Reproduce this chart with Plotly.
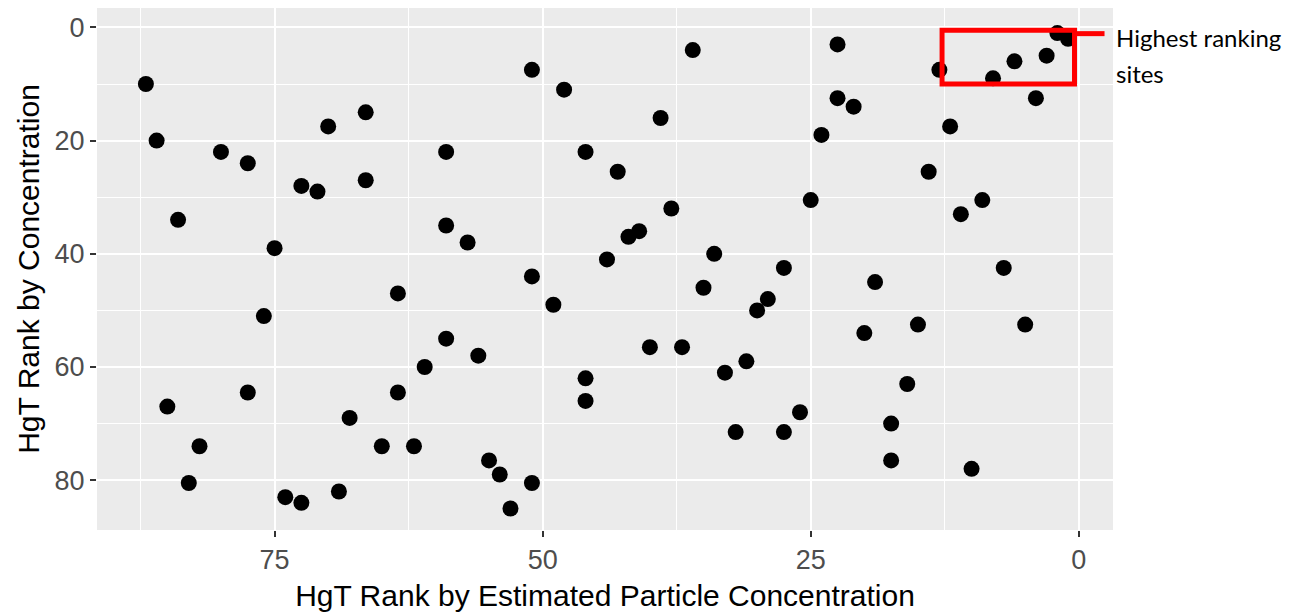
import plotly.graph_objects as go

# HgT rank by estimated particle concentration (x) vs rank by concentration (y)
particle_rank = [87, 86, 80, 77.5, 84, 75, 72.5, 71, 70, 66.5, 66.5, 59, 59,
                 51, 48, 36, 39, 46, 43, 38, 57, 42, 41, 44, 34, 51,
                 22.5, 13, 8, 6, 3, 2, 1, 4, 22.5, 21, 12, 24, 14, 25, 9, 11, 27.5, 7,
                 63.5, 76, 59, 61, 77.5, 63.5, 85, 68, 82, 65, 62, 83, 74, 72.5, 69,
                 49, 56, 46, 46, 40, 37, 35, 30, 29, 33, 31, 32, 55, 54, 51, 53,
                 19, 20, 15, 5, 16, 26, 27.5, 17.5, 17.5, 10]
conc_rank = [10, 20, 22, 24, 34, 39, 28, 29, 17.5, 15, 27, 22, 35,
             7.5, 11, 4, 16, 22, 25.5, 32, 38, 37, 36, 41, 40, 44,
             3, 7.5, 9, 6, 5, 1, 2, 12.5, 12.5, 14, 17.5, 19, 25.5, 30.5, 30.5, 33, 42.5, 42.5,
             47, 51, 55, 60, 64.5, 64.5, 67, 69, 74, 74, 74, 80.5, 83, 84, 82,
             49, 58, 62, 66, 56.5, 56.5, 46, 50, 48, 61, 59, 71.5, 76.5, 79, 80.5, 85,
             45, 54, 52.5, 52.5, 63, 68, 71.5, 70, 76.5, 78]

x_ticks = [0, 25, 50, 75]
y_ticks = [0, 20, 40, 60, 80]
x_title = "HgT Rank by Estimated Particle Concentration"
y_title = "HgT Rank by Concentration"
note_lines = ["Highest ranking", "sites"]
box_x = [12.75, 0.4]
box_y = [0.5, 10]

fig = go.Figure()
fig.add_trace(go.Scatter(
    x=particle_rank, y=conc_rank, mode="markers",
    marker=dict(color="black", size=16, line=dict(width=0)),
    showlegend=False, hoverinfo="x+y",
))

fig.add_shape(type="rect", xref="x", yref="y",
              x0=box_x[0], x1=box_x[1], y0=box_y[0], y1=box_y[1],
              line=dict(color="#FF0000", width=5))
fig.add_shape(type="line", xref="x", yref="y",
              x0=box_x[1], x1=-2.4, y0=1.1, y1=1.1,
              line=dict(color="#FF0000", width=5))

fig.add_annotation(text=note_lines[0], xref="paper", yref="y", x=1.001, y=1.7,
                   xanchor="left", yanchor="middle", showarrow=False,
                   font=dict(family="Lato", size=24, color="black"))
fig.add_annotation(text=note_lines[1], xref="paper", yref="y", x=1.001, y=8.2,
                   xanchor="left", yanchor="middle", showarrow=False,
                   font=dict(family="Lato", size=24, color="black"))

axis_common = dict(
    showline=False, zeroline=False,
    gridcolor="white", gridwidth=2,
    ticks="outside", ticklen=6, tickwidth=1.5, tickcolor="#333333",
    tickfont=dict(family="Liberation Sans", size=27, color="#4D4D4D"),
    title_font=dict(family="Liberation Sans", size=30, color="black"),
)

fig.update_xaxes(
    range=[91.56, -3.19], tickvals=x_ticks, ticktext=[str(v) for v in x_ticks],
    title_text=x_title, title_standoff=10,
    minor=dict(tickvals=[12.5, 37.5, 62.5, 87.5], showgrid=True,
               gridcolor="white", gridwidth=1, ticks=""),
    **axis_common,
)
fig.update_yaxes(
    range=[88.8, -3.43], tickvals=y_ticks, ticktext=[str(v) for v in y_ticks],
    title_text=y_title, title_standoff=6,
    minor=dict(tickvals=[10, 30, 50, 70], showgrid=True,
               gridcolor="white", gridwidth=1, ticks=""),
    **axis_common,
)

# the page body adds an 8 px offset, so the figure is 8 px smaller on each side
fig.update_layout(
    width=1293, height=606,
    margin=dict(l=89, r=188, t=0, b=84, autoexpand=False),
    plot_bgcolor="#EBEBEB", paper_bgcolor="white",
    font=dict(family="Liberation Sans"),
)

fig.write_html("out.html")
